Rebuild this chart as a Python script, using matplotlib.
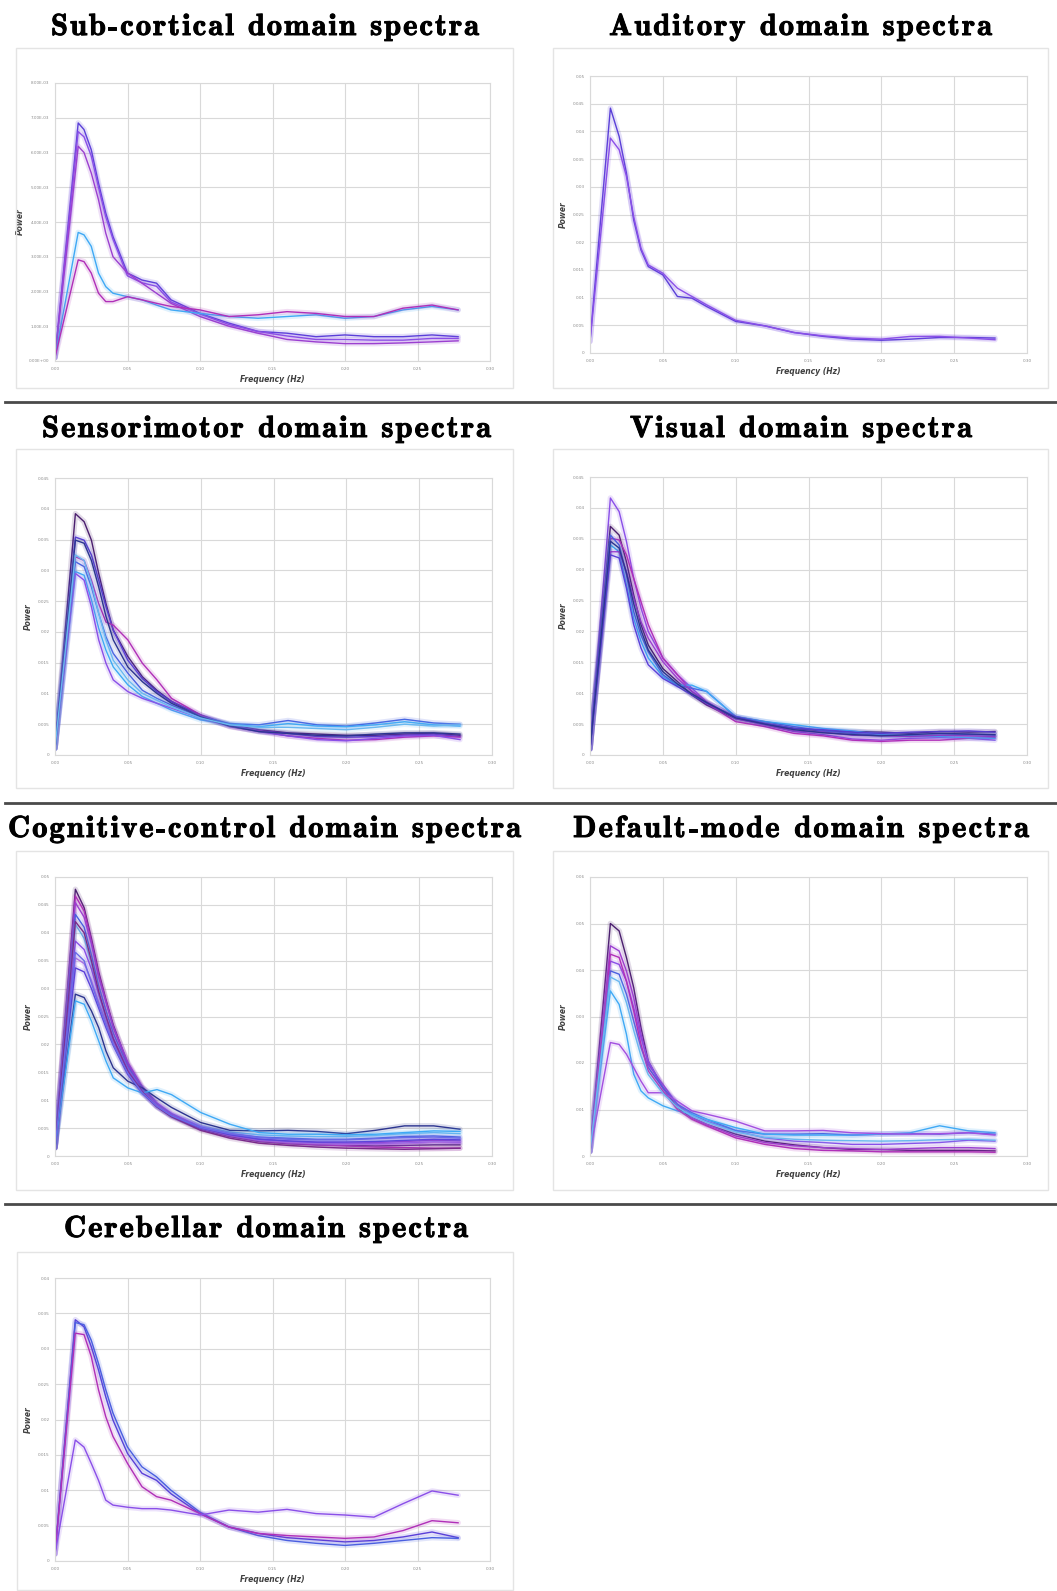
import matplotlib
matplotlib.use('Agg')
import matplotlib.pyplot as plt
import matplotlib.patheffects as pe
from matplotlib.patches import Rectangle
from matplotlib.lines import Line2D
from matplotlib.ticker import FuncFormatter

W, H = 1057, 1591

# frequency samples (Hz); power values are in units of 1e-3
FREQ = [0, 0.014, 0.02, 0.025, 0.03, 0.035, 0.04, 0.05, 0.06, 0.07, 0.08,
        0.10, 0.12, 0.14, 0.16, 0.18, 0.20, 0.22, 0.24, 0.26, 0.278]
FREQ_SC = [0, 0.016] + FREQ[2:]

CYAN = '#3fa9f5'
SKY = '#6ab8f0'
BLUE = '#4a5fe0'
INDIGO = '#5a3fd8'
VIOLET = '#8a4fe8'
PURPLE = '#9b3fd0'
MAGENTA = '#b02fb8'
PLUM = '#7a2a8a'
DARK = '#4b1f6f'
NAVY = '#2c3590'

# Sub-cortical (x1e-3)
sc_curves = [
    [0.1, 6.85, 6.66, 6.08, 5.12, 4.26, 3.58, 2.53, 2.33, 2.24, 1.76, 1.37, 1.09, 0.85, 0.80, 0.70, 0.75, 0.70, 0.70, 0.75, 0.70],
    [0.1, 6.60, 6.45, 5.90, 5.00, 4.15, 3.50, 2.45, 2.25, 2.15, 1.70, 1.35, 1.05, 0.85, 0.72, 0.62, 0.62, 0.60, 0.60, 0.65, 0.65],
    [0.1, 6.18, 6.00, 5.41, 4.64, 3.68, 3.00, 2.53, 2.24, 1.95, 1.66, 1.28, 1.00, 0.80, 0.62, 0.55, 0.50, 0.50, 0.52, 0.55, 0.58],
    [0.1, 3.70, 3.63, 3.30, 2.53, 2.14, 1.95, 1.85, 1.76, 1.61, 1.47, 1.37, 1.28, 1.23, 1.28, 1.33, 1.23, 1.28, 1.47, 1.57, 1.47],
    [0.1, 2.91, 2.86, 2.53, 1.95, 1.71, 1.71, 1.85, 1.76, 1.66, 1.57, 1.47, 1.28, 1.33, 1.42, 1.37, 1.28, 1.28, 1.52, 1.61, 1.47],
]
sc_colors = [INDIGO, VIOLET, PURPLE, CYAN, MAGENTA]

# Auditory
au_curves = [
    [2.1, 44.2, 39.1, 32.5, 24.0, 18.6, 15.6, 14.1, 10.2, 9.9, 8.4, 5.7, 4.9, 3.7, 3.0, 2.5, 2.3, 2.5, 2.8, 2.8, 2.7],
    [2.1, 38.8, 36.7, 31.9, 24.6, 18.9, 15.9, 14.4, 11.7, 10.2, 8.7, 5.9, 4.9, 3.7, 3.1, 2.7, 2.5, 3.0, 3.0, 2.7, 2.4],
]
au_colors = [INDIGO, VIOLET]

# Sensorimotor
sm_curves = [
    [1.1, 39.2, 37.9, 34.9, 29.5, 24.6, 20.3, 16.0, 12.7, 10.5, 8.7, 6.2, 4.9, 4.1, 3.6, 3.4, 3.2, 3.2, 3.4, 3.5, 3.2],
    [1.1, 35.4, 34.9, 32.5, 28.4, 24.1, 20.3, 15.4, 12.4, 10.3, 8.7, 6.5, 4.9, 3.9, 3.5, 3.0, 2.9, 3.0, 3.2, 3.4, 3.0],
    [1.1, 32.2, 31.6, 28.4, 24.6, 21.6, 21.1, 18.7, 14.9, 12.2, 9.2, 6.5, 4.6, 3.9, 3.1, 2.7, 2.4, 2.5, 2.9, 3.1, 2.9],
    [1.1, 31.4, 30.6, 27.3, 23.0, 19.2, 16.5, 13.3, 10.5, 9.2, 8.1, 6.2, 5.1, 4.9, 5.6, 4.9, 4.7, 5.2, 5.8, 5.2, 5.0],
    [1.1, 29.8, 29.2, 25.2, 20.6, 17.0, 14.3, 11.4, 9.5, 8.4, 7.3, 5.7, 5.0, 4.6, 5.1, 4.7, 4.6, 4.9, 5.4, 4.9, 4.7],
    [1.1, 29.5, 28.4, 24.1, 18.7, 14.9, 12.2, 10.3, 9.2, 8.4, 7.6, 6.0, 4.7, 3.8, 3.1, 2.5, 2.3, 2.7, 3.1, 3.2, 2.5],
    [1.1, 34.9, 34.4, 31.6, 27.3, 22.5, 18.7, 14.3, 11.9, 10.0, 8.4, 6.2, 4.7, 3.8, 3.5, 3.2, 3.1, 3.4, 3.6, 3.6, 3.4],
    [1.1, 32.5, 31.6, 27.9, 23.0, 18.7, 15.4, 12.2, 10.0, 8.9, 7.8, 6.0, 4.9, 4.5, 4.5, 4.3, 4.1, 4.5, 5.0, 4.7, 4.9],
]
sm_colors = [DARK, INDIGO, MAGENTA, BLUE, CYAN, VIOLET, NAVY, SKY]

# Visual
vi_curves = [
    [1.0, 41.6, 39.4, 34.6, 28.6, 23.8, 20.0, 15.7, 13.0, 10.8, 8.6, 5.9, 4.9, 3.8, 3.3, 2.6, 2.4, 2.7, 2.8, 2.7, 2.4],
    [1.0, 37.0, 35.6, 31.3, 25.9, 21.1, 17.8, 14.0, 11.9, 9.7, 8.1, 5.9, 5.1, 4.3, 3.9, 3.8, 3.7, 3.5, 3.8, 3.7, 3.8],
    [1.0, 35.1, 34.8, 32.4, 28.6, 24.8, 21.1, 15.7, 13.0, 10.3, 8.4, 5.4, 4.6, 3.5, 3.1, 2.4, 2.2, 2.4, 2.4, 2.7, 2.8],
    [1.0, 35.6, 34.0, 29.2, 23.2, 19.4, 16.7, 13.0, 11.3, 10.8, 10.3, 6.2, 5.4, 4.6, 3.9, 3.5, 3.2, 3.1, 3.2, 3.3, 3.2],
    [1.0, 34.0, 32.9, 27.5, 22.1, 18.4, 15.7, 12.7, 11.3, 11.3, 10.3, 6.2, 5.4, 4.9, 4.3, 3.9, 3.3, 3.1, 3.0, 2.8, 2.7],
    [1.0, 32.9, 32.9, 29.7, 25.4, 21.6, 18.9, 15.1, 12.4, 10.3, 8.6, 5.9, 4.9, 3.9, 3.7, 3.2, 3.1, 3.0, 3.2, 3.1, 3.0],
    [1.0, 32.4, 31.9, 27.0, 21.1, 17.3, 14.6, 12.4, 11.1, 9.7, 8.4, 6.2, 5.1, 4.3, 4.1, 3.7, 3.5, 3.7, 3.8, 3.9, 3.7],
    [1.0, 34.6, 33.5, 29.5, 24.5, 20.2, 17.0, 13.5, 11.5, 9.9, 8.5, 6.0, 5.0, 4.1, 3.6, 3.3, 3.1, 3.3, 3.5, 3.4, 3.3],
]
vi_colors = [VIOLET, DARK, MAGENTA, BLUE, CYAN, PURPLE, INDIGO, NAVY]

# Cognitive-control
cc_curves = [
    [1.5, 47.8, 44.5, 39.0, 33.0, 28.0, 23.5, 16.5, 12.0, 9.0, 7.2, 4.8, 3.5, 2.6, 2.2, 2.0, 1.9, 1.8, 1.9, 2.0, 2.0],
    [1.5, 46.6, 43.9, 38.5, 32.5, 27.8, 23.0, 16.4, 12.2, 9.3, 7.5, 5.0, 3.6, 2.7, 2.3, 2.0, 1.8, 1.6, 1.5, 1.4, 1.4],
    [1.5, 45.4, 42.8, 38.0, 32.0, 27.5, 23.2, 16.8, 12.4, 9.5, 7.6, 5.1, 3.8, 3.0, 2.6, 2.4, 2.3, 2.4, 2.6, 2.8, 2.7],
    [1.5, 43.3, 41.0, 36.0, 30.5, 26.0, 22.0, 16.0, 12.0, 9.2, 7.4, 5.2, 4.0, 3.4, 3.2, 3.0, 3.0, 3.2, 3.5, 3.6, 3.4],
    [1.5, 41.5, 39.0, 34.5, 29.0, 24.5, 20.8, 15.0, 11.4, 9.0, 7.3, 5.3, 4.3, 3.8, 3.6, 3.5, 3.5, 3.7, 4.0, 4.2, 4.0],
    [1.5, 38.5, 37.0, 33.5, 29.0, 25.0, 21.2, 15.5, 11.8, 9.2, 7.5, 5.2, 3.9, 3.0, 2.6, 2.3, 2.2, 2.2, 2.3, 2.5, 2.4],
    [1.5, 35.5, 34.5, 31.5, 27.5, 24.0, 20.5, 15.0, 11.5, 9.0, 7.3, 5.0, 3.7, 2.8, 2.4, 2.2, 2.1, 2.1, 2.2, 2.4, 2.3],
    [1.5, 33.7, 33.0, 30.0, 26.5, 23.0, 19.8, 14.6, 11.2, 8.8, 7.2, 5.0, 3.8, 3.0, 2.7, 2.5, 2.5, 2.6, 2.8, 3.0, 2.9],
    [1.5, 29.0, 28.4, 26.0, 23.0, 18.8, 15.8, 13.4, 12.2, 10.4, 8.7, 6.0, 4.6, 4.5, 4.6, 4.4, 4.0, 4.6, 5.4, 5.4, 4.8],
    [1.5, 27.8, 27.2, 24.2, 20.6, 17.0, 14.0, 12.2, 11.3, 11.9, 11.0, 7.8, 5.7, 4.2, 3.9, 3.9, 3.8, 3.9, 4.2, 4.5, 4.4],
    [1.5, 42.0, 40.0, 35.0, 29.5, 25.0, 21.0, 15.2, 11.5, 8.8, 7.0, 4.6, 3.2, 2.3, 1.9, 1.6, 1.4, 1.3, 1.2, 1.3, 1.4],
    [1.5, 36.5, 35.0, 31.0, 27.0, 23.5, 20.0, 14.8, 11.3, 8.9, 7.2, 5.1, 4.0, 3.3, 3.0, 2.9, 2.9, 3.1, 3.3, 3.4, 3.2],
]
cc_colors = [DARK, MAGENTA, PURPLE, BLUE, SKY, VIOLET, '#b070e0', INDIGO, NAVY, CYAN, PLUM, '#6a6ae8']

# Default-mode
dm_curves = [
    [1.0, 50.0, 48.4, 42.7, 36.2, 27.6, 20.4, 14.7, 10.4, 8.2, 6.8, 4.7, 3.2, 2.4, 1.8, 1.4, 1.4, 1.2, 1.2, 1.2, 1.1],
    [1.0, 45.2, 44.1, 39.8, 34.1, 26.2, 19.7, 15.4, 11.1, 8.2, 6.8, 4.3, 2.9, 2.2, 1.8, 1.6, 1.4, 1.6, 1.8, 1.8, 1.6],
    [1.0, 41.9, 41.2, 37.6, 31.9, 25.5, 20.4, 14.7, 11.1, 9.0, 7.5, 5.4, 3.9, 3.2, 2.9, 2.5, 2.5, 2.7, 2.9, 3.4, 3.2],
    [1.0, 39.8, 39.1, 34.8, 29.0, 23.3, 19.0, 14.7, 11.1, 9.3, 7.9, 5.5, 4.7, 4.7, 4.8, 4.5, 4.7, 4.8, 4.7, 5.0, 4.7],
    [1.0, 35.5, 32.6, 26.2, 17.6, 14.0, 12.5, 10.8, 9.7, 9.0, 7.9, 6.1, 4.7, 4.5, 4.5, 4.5, 4.7, 5.0, 6.5, 5.4, 5.0],
    [1.0, 24.4, 24.0, 21.9, 19.0, 16.1, 13.6, 13.6, 11.8, 9.7, 9.0, 7.5, 5.4, 5.4, 5.5, 5.0, 4.8, 4.7, 4.8, 5.0, 4.5],
    [1.0, 43.4, 42.7, 37.6, 31.2, 24.0, 18.3, 14.0, 10.0, 7.9, 6.5, 3.9, 2.5, 1.6, 1.2, 1.1, 0.9, 0.9, 0.9, 0.9, 0.8],
    [1.0, 38.5, 37.5, 33.0, 27.0, 21.5, 17.5, 13.5, 10.5, 8.6, 7.3, 5.2, 4.0, 3.6, 3.4, 3.3, 3.2, 3.3, 3.5, 3.6, 3.4],
]
dm_colors = [DARK, PURPLE, VIOLET, BLUE, CYAN, '#a24fe0', MAGENTA, SKY]

# Cerebellar
ce_curves = [
    [1.0, 34.1, 33.1, 30.3, 27.0, 23.2, 19.9, 15.2, 12.4, 11.4, 9.5, 6.7, 4.8, 3.9, 3.3, 3.0, 2.7, 2.9, 3.4, 4.1, 3.3],
    [1.0, 33.7, 33.4, 31.2, 27.9, 24.2, 20.9, 16.1, 13.3, 11.9, 10.0, 6.9, 4.8, 3.6, 2.9, 2.5, 2.2, 2.5, 2.9, 3.3, 3.2],
    [1.0, 32.2, 32.0, 28.9, 24.2, 20.4, 17.6, 13.8, 10.5, 9.1, 8.6, 6.7, 4.8, 3.9, 3.6, 3.4, 3.2, 3.4, 4.3, 5.7, 5.4],
    [1.0, 17.1, 16.1, 13.8, 11.4, 8.6, 7.9, 7.6, 7.4, 7.4, 7.2, 6.5, 7.2, 6.9, 7.3, 6.7, 6.5, 6.2, 8.1, 9.9, 9.3],
]
ce_colors = [INDIGO, BLUE, MAGENTA, VIOLET]


def sci_fmt(v, pos):
    return f"{v * 1e-3:.2E}"


def dec_fmt(v, pos):
    if v == 0:
        return "0"
    return f"{v * 1e-3:g}"


# title, title span (x0, x1, baseline) px, box (l, t, r, b) px, axes (l, t, r, b) px,
# ylabel offset px, curves, colors, x, ymax, ystep, y formatter
panels = [
    ("Sub-cortical domain spectra", (51, 479, 35), (16, 48, 513, 388), (55, 83, 490, 361), 30,
     sc_curves, sc_colors, FREQ_SC, 8, 1, sci_fmt),
    ("Auditory domain spectra", (609, 992, 35), (553, 48, 1048, 388), (590, 76, 1027, 353), 22,
     au_curves, au_colors, FREQ, 50, 5, dec_fmt),
    ("Sensorimotor domain spectra", (42, 491, 437), (16, 449, 513, 788), (55, 478, 492, 755), 22,
     sm_curves, sm_colors, FREQ, 45, 5, dec_fmt),
    ("Visual domain spectra", (630, 972, 437), (553, 449, 1048, 788), (590, 477, 1027, 755), 22,
     vi_curves, vi_colors, FREQ, 45, 5, dec_fmt),
    ("Cognitive-control domain spectra", (8, 521, 837), (16, 851, 513, 1190), (55, 877, 492, 1156), 22,
     cc_curves, cc_colors, FREQ, 50, 5, dec_fmt),
    ("Default-mode domain spectra", (573, 1029, 837), (553, 851, 1048, 1190), (590, 877, 1027, 1156), 22,
     dm_curves, dm_colors, FREQ, 60, 10, dec_fmt),
    ("Cerebellar domain spectra", (64, 468, 1237), (17, 1252, 513, 1590), (55, 1278, 490, 1561), 22,
     ce_curves, ce_colors, FREQ, 40, 5, dec_fmt),
]

sep_y = [402, 803, 1204]
TITLE_FONT = ['cmb10', 'DejaVu Serif']
TITLE_SIZE = 22
TITLE_FX = [pe.withStroke(linewidth=0.7, foreground='black')]

fig = plt.figure(figsize=(W / 100, H / 100), dpi=100)
fig.patch.set_facecolor('white')
renderer = fig.canvas.get_renderer()


def text_width(s):
    t = fig.text(0, 0, s, family=TITLE_FONT, fontsize=TITLE_SIZE)
    w = t.get_window_extent(renderer).width
    t.remove()
    return w


def spaced_title(s, x0, x1, base):
    # letter-spaced title, one text per glyph, spread over [x0, x1]
    natural = text_width(s)
    track = (x1 - x0 - natural) / (len(s) - 1)
    wl = text_width('l')
    for k, ch in enumerate(s):
        if ch == ' ':
            continue
        off = text_width(s[:k] + 'l') - wl if k > 0 else 0
        fig.text((x0 + off + k * track) / W, 1 - base / H, ch, family=TITLE_FONT,
                 fontsize=TITLE_SIZE, ha='left', va='baseline', color='black',
                 path_effects=TITLE_FX)


for (title, tspan, box, rect, yl_off, curves, colors, xs, ymax, ystep, fmt) in panels:
    bl, bt, br, bb = box
    fig.add_artist(Rectangle((bl / W, 1 - bb / H), (br - bl) / W, (bb - bt) / H,
                             transform=fig.transFigure, fill=False,
                             edgecolor='#e4e4e4', linewidth=1.0))
    spaced_title(title, *tspan)

    l, t, r, b = rect
    ax = fig.add_axes([l / W, 1 - b / H, (r - l) / W, (b - t) / H])
    for ys, c in zip(curves, colors):
        ax.plot(xs, ys, color=c, lw=4.0, alpha=0.16, solid_capstyle='round')
        ax.plot(xs, ys, color=c, lw=1.0)
    ax.set_xlim(0, 0.30)
    ax.set_ylim(0, ymax)
    ax.set_xticks([0, 0.05, 0.10, 0.15, 0.20, 0.25, 0.30])
    ax.set_xticklabels(['0.00', '0.05', '0.10', '0.15', '0.20', '0.25', '0.30'])
    ax.set_yticks(list(range(0, ymax + 1, ystep)))
    ax.yaxis.set_major_formatter(FuncFormatter(fmt))
    ax.grid(True, color='#d9d9d9', linewidth=0.8)
    ax.set_axisbelow(True)
    for s in ax.spines.values():
        s.set_color('#d9d9d9')
        s.set_linewidth(0.8)
    ax.tick_params(length=0, labelsize=3, colors='#8a8a8a', pad=4)
    ax.set_xlabel('Frequency (Hz)', fontsize=5.5, fontweight='bold',
                  fontstyle='italic', color='#404040', labelpad=3)
    ax.set_ylabel('Power', fontsize=5.5, fontweight='bold',
                  fontstyle='italic', color='#404040')
    ax.yaxis.set_label_coords(-yl_off / (r - l), 0.5)

for y in sep_y:
    fig.add_artist(Line2D([5 / W, 1.0], [1 - y / H, 1 - y / H],
                          transform=fig.transFigure, color='#4a4a4a', linewidth=2))

fig.savefig('out.png', dpi=100, facecolor='white')
